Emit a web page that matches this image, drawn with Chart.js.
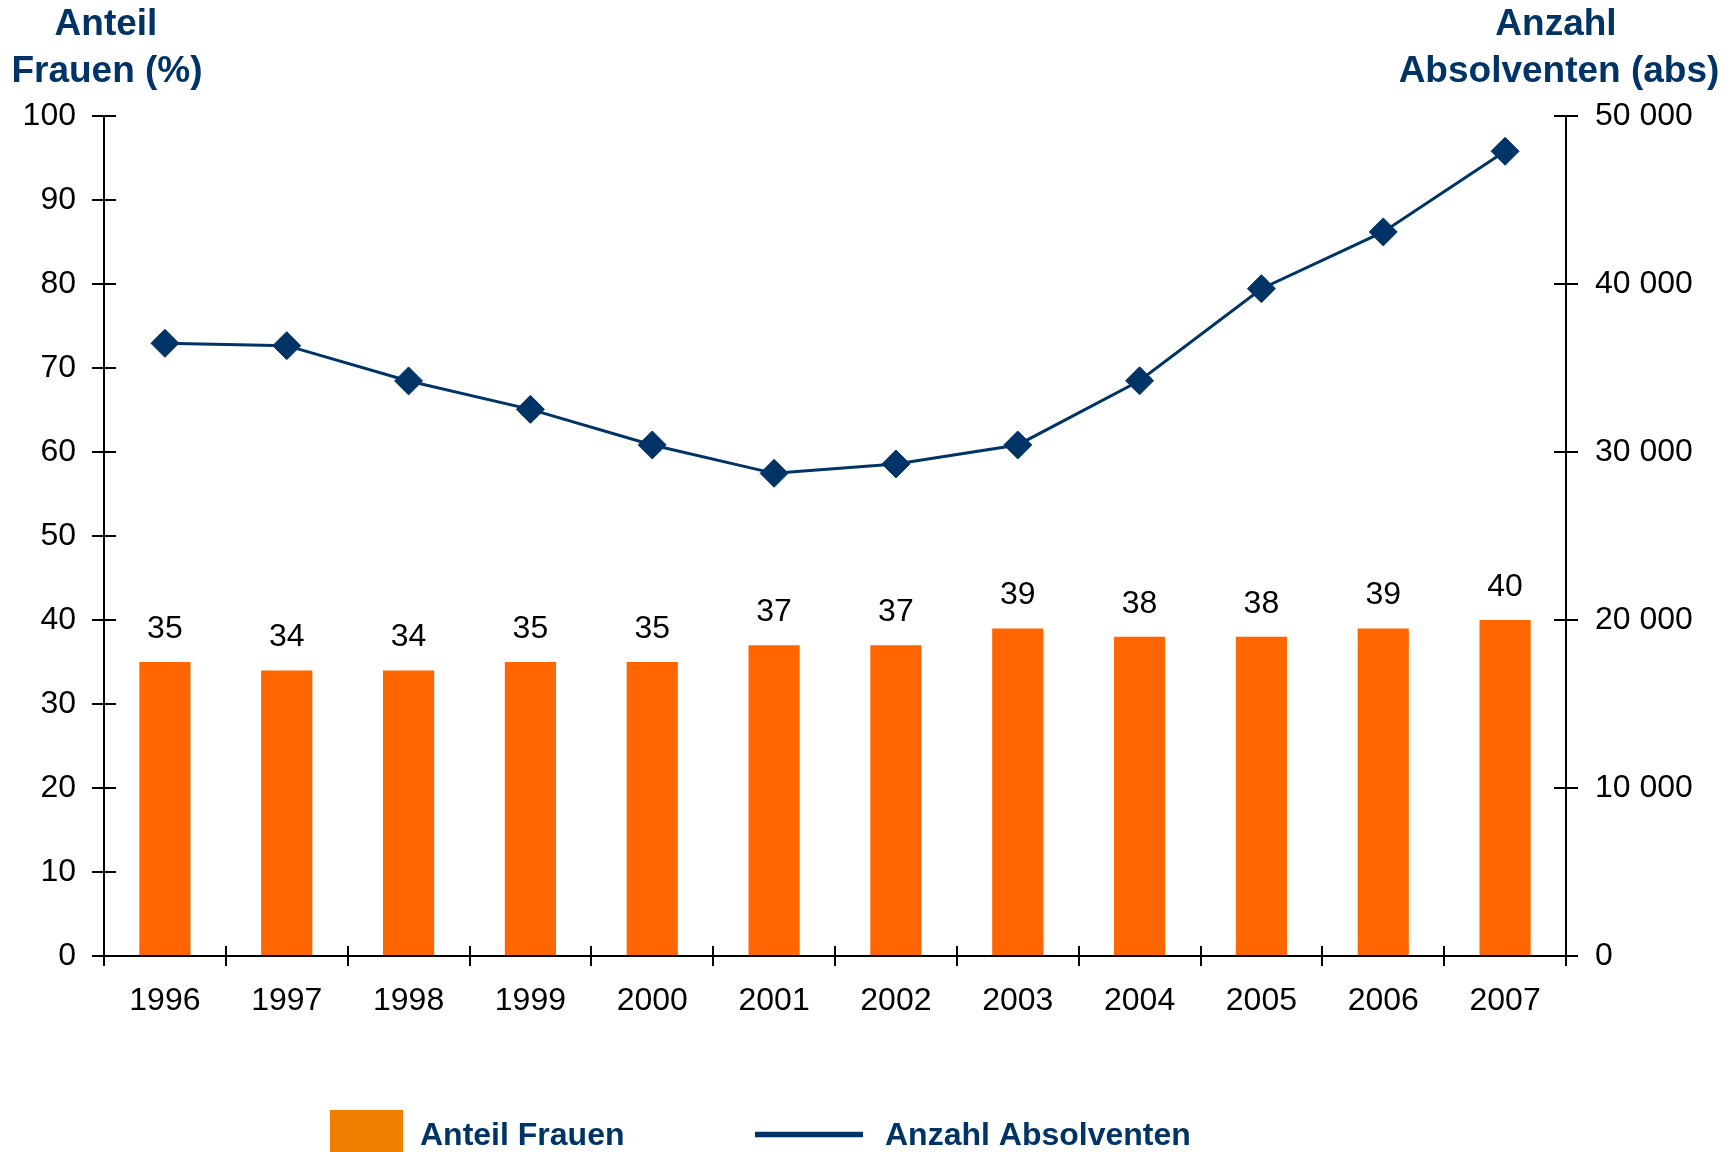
<!DOCTYPE html>
<html>
<head>
<meta charset="utf-8">
<title>Absolventen 1996–2007</title>
<script src="https://cdn.jsdelivr.net/npm/chart.js@4.4.1/dist/chart.umd.min.js"></script>
<style>
  html, body { margin: 0; padding: 0; background: #fff; }
  #wrap { width: 1736px; height: 1152px; }
</style>
</head>
<body>
<div id="wrap"><canvas id="chart" width="1736" height="1152"></canvas></div>
<script>
// Jahrgänge
const years = ['1996', '1997', '1998', '1999', '2000', '2001', '2002', '2003', '2004', '2005', '2006', '2007'];
// Anteil Frauen (%)
const shareWomen = [35, 34, 34, 35, 35, 37, 37, 39, 38, 38, 39, 40];
// Anzahl Absolventen (abs)
const graduates = [36470, 36330, 34230, 32540, 30420, 28730, 29290, 30420, 34240, 39720, 43100, 47900];
// Achsenteilung links / rechts
const percentTicks = [0, 10, 20, 30, 40, 50, 60, 70, 80, 90, 100];
const countTicks = [0, 10000, 20000, 30000, 40000, 50000];

const NAVY = '#003366';
const ORANGE = '#FF6600';
const LEGEND_ORANGE = '#EF7F00';
const FONT = "'Liberation Sans', Arial, sans-serif";

// 50000 -> "50 000"
function spaced(v) {
  return String(v).replace(/\B(?=(\d{3})+(?!\d))/g, ' ');
}

// short tick stubs pointing into the plot, so the ticks cross the axis lines
const innerTicks = {
  id: 'innerTicks',
  afterDraw(chart) {
    const { ctx, chartArea: a, scales } = chart;
    ctx.save();
    ctx.strokeStyle = '#000';
    ctx.lineWidth = 2;
    ctx.beginPath();
    scales.y.ticks.forEach(t => {
      const py = Math.round(scales.y.getPixelForValue(t.value));
      ctx.moveTo(a.left, py);
      ctx.lineTo(a.left + 12, py);
    });
    scales.y1.ticks.forEach(t => {
      const py = Math.round(scales.y1.getPixelForValue(t.value));
      ctx.moveTo(a.right, py);
      ctx.lineTo(a.right - 12, py);
    });
    for (let i = 0; i <= years.length; i++) {
      const px = Math.round(scales.x.getPixelForValue(i - 0.5));
      ctx.moveTo(px, a.bottom);
      ctx.lineTo(px, a.bottom - 10);
    }
    ctx.stroke();
    ctx.restore();
  }
};

// value printed above each bar
const barValues = {
  id: 'barValues',
  afterDatasetsDraw(chart) {
    const { ctx } = chart;
    const meta = chart.getDatasetMeta(0);
    ctx.save();
    ctx.font = '32px ' + FONT;
    ctx.fillStyle = '#000';
    ctx.textAlign = 'center';
    ctx.textBaseline = 'alphabetic';
    meta.data.forEach((bar, i) => {
      ctx.fillText(String(chart.data.datasets[0].data[i]), bar.x, bar.y - 24);
    });
    ctx.restore();
  }
};

// axis headings above both value axes
const axisHeads = {
  id: 'axisHeads',
  afterDraw(chart) {
    const { ctx } = chart;
    ctx.save();
    ctx.font = 'bold 37px ' + FONT;
    ctx.fillStyle = NAVY;
    ctx.textAlign = 'center';
    ctx.textBaseline = 'alphabetic';
    ctx.fillText('Anteil', 106, 35);
    ctx.fillText('Frauen (%)', 107, 82);
    ctx.fillText('Anzahl', 1556, 35);
    ctx.fillText('Absolventen (abs)', 1559, 82);
    ctx.restore();
  }
};

// legend row at the bottom: swatch for the bars, line sample for the series
const legendRow = {
  id: 'legendRow',
  afterDraw(chart) {
    const { ctx } = chart;
    const [bars, line] = chart.data.datasets;
    ctx.save();
    ctx.fillStyle = LEGEND_ORANGE;
    ctx.fillRect(330, 1110, 73, 42);
    ctx.strokeStyle = line.borderColor;
    ctx.lineWidth = 5.5;
    ctx.beginPath();
    ctx.moveTo(755, 1134.5);
    ctx.lineTo(863, 1134.5);
    ctx.stroke();
    ctx.font = 'bold 32px ' + FONT;
    ctx.fillStyle = NAVY;
    ctx.textBaseline = 'alphabetic';
    ctx.fillText(bars.label, 420, 1145);
    ctx.fillText(line.label, 885, 1145);
    ctx.restore();
  }
};

const axisGrid = (len) => ({
  display: true,
  drawOnChartArea: false,
  drawTicks: true,
  tickLength: len,
  color: '#000',
  lineWidth: 2
});
const axisBorder = { display: true, color: '#000', width: 2 };
const tickFont = { family: FONT, size: 32 };

const ctx = document.getElementById('chart').getContext('2d');
new Chart(ctx, {
  type: 'bar',
  data: {
    labels: years,
    datasets: [
      {
        type: 'bar',
        label: 'Anteil Frauen',
        data: shareWomen,
        yAxisID: 'y',
        backgroundColor: ORANGE,
        borderWidth: 0,
        barPercentage: 0.42,
        categoryPercentage: 1,
        order: 1
      },
      {
        type: 'line',
        label: 'Anzahl Absolventen',
        data: graduates,
        yAxisID: 'y1',
        borderColor: NAVY,
        backgroundColor: NAVY,
        borderWidth: 3,
        tension: 0,
        pointStyle: 'rectRot',
        pointRadius: 14,
        pointBorderWidth: 1,
        pointBackgroundColor: NAVY,
        pointBorderColor: NAVY,
        order: 0
      }
    ]
  },
  options: {
    responsive: false,
    animation: false,
    layout: { padding: { top: 116, left: 0, right: 0, bottom: 0 } },
    plugins: {
      legend: { display: false },
      tooltip: { enabled: false }
    },
    scales: {
      x: {
        offset: true,
        grid: Object.assign(axisGrid(10), { offset: true }),
        border: axisBorder,
        ticks: { color: '#000', font: tickFont, padding: 16, maxRotation: 0, autoSkip: false },
        afterFit: s => { s.height = 196; }
      },
      y: {
        position: 'left',
        min: 0,
        max: 100,
        afterBuildTicks: s => { s.ticks = percentTicks.map(v => ({ value: v })); },
        grid: axisGrid(12),
        border: axisBorder,
        ticks: { color: '#000', font: tickFont, padding: 16 },
        afterFit: s => { s.width = 104; }
      },
      y1: {
        position: 'right',
        min: 0,
        max: 50000,
        afterBuildTicks: s => { s.ticks = countTicks.map(v => ({ value: v })); },
        grid: axisGrid(12),
        border: axisBorder,
        ticks: { color: '#000', font: tickFont, padding: 17, callback: v => spaced(v) },
        afterFit: s => { s.width = 170; }
      }
    }
  },
  plugins: [innerTicks, barValues, axisHeads, legendRow]
});
</script>
</body>
</html>
